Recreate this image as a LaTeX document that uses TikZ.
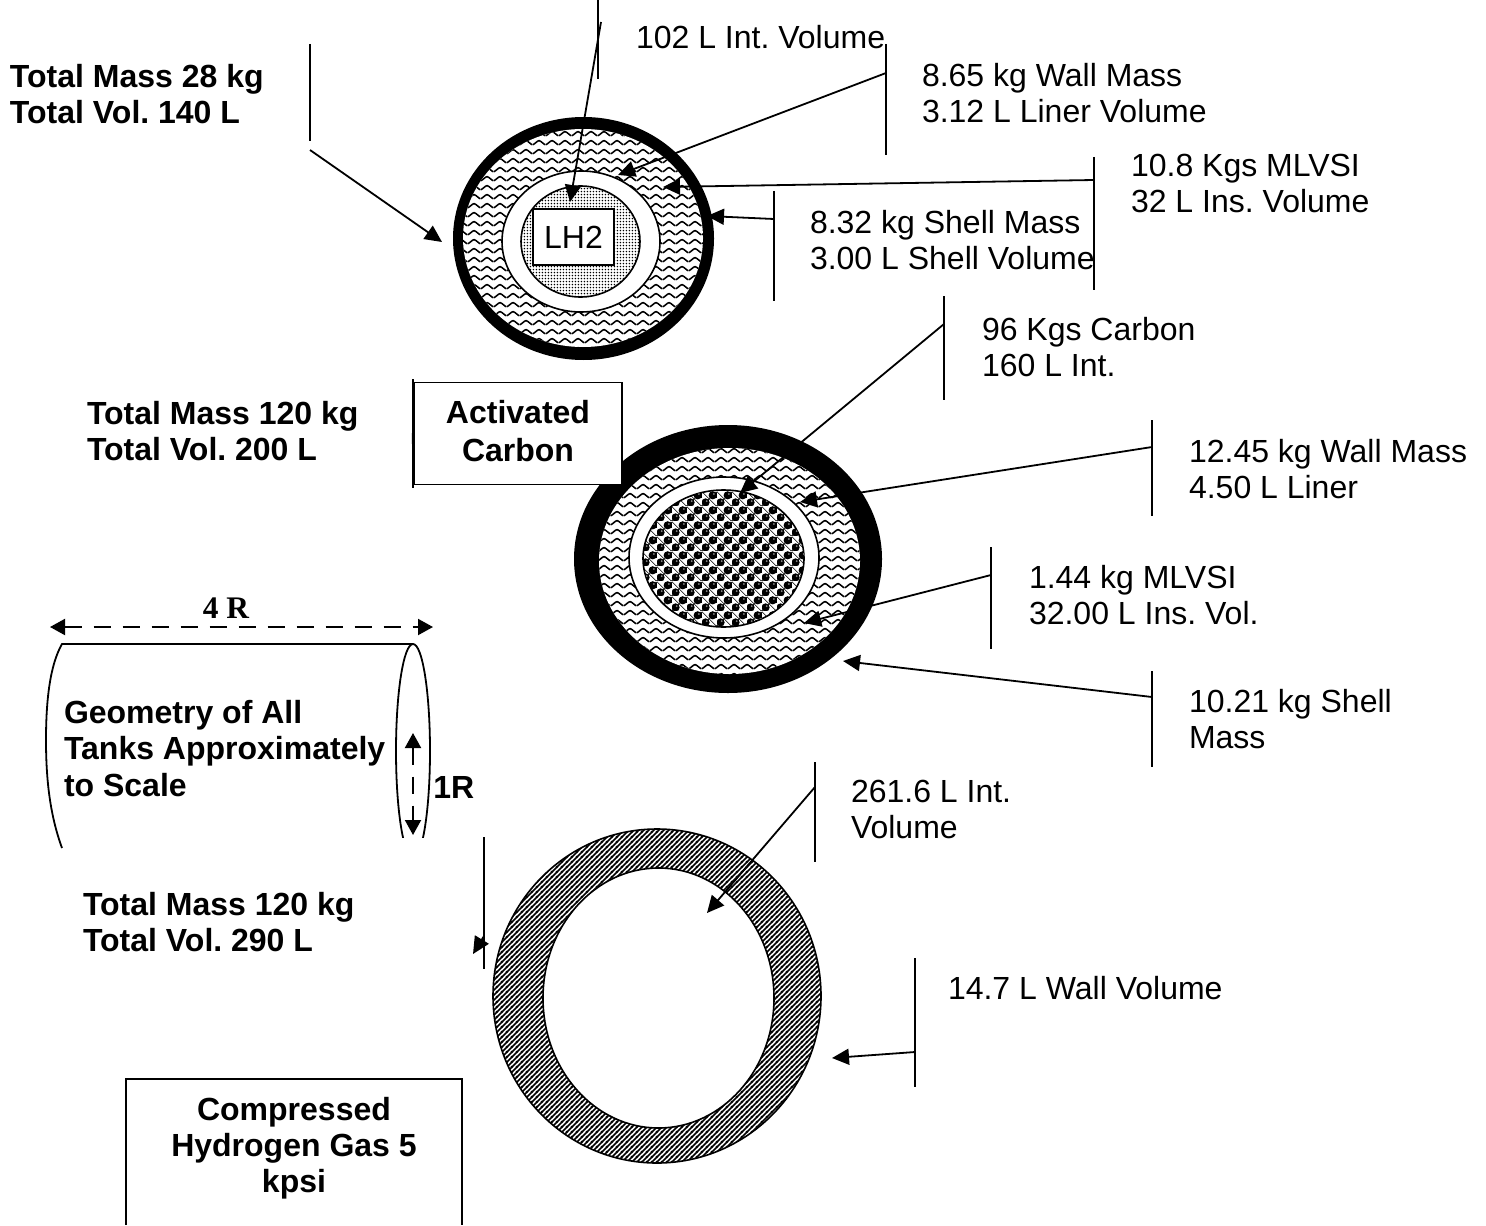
\documentclass[tikz,border=0pt]{standalone}
\usepackage{fontspec}
\setmainfont{Liberation Sans}
\newfontfamily\timesfam{Liberation Serif}
\usetikzlibrary{patterns,arrows.meta}
\pgfdeclarepatternformonly{wavy}{\pgfqpoint{0pt}{0pt}}{\pgfqpoint{6.5pt}{4.4pt}}{\pgfqpoint{6.5pt}{4.4pt}}{%
  \pgfsetlinewidth{0.8pt}%
  \pgfpathmoveto{\pgfqpoint{-0.2pt}{1.15pt}}%
  \pgfpathcurveto{\pgfqpoint{0.6pt}{1.15pt}}{\pgfqpoint{2.3pt}{3.25pt}}{\pgfqpoint{3.25pt}{3.25pt}}%
  \pgfpathcurveto{\pgfqpoint{4.2pt}{3.25pt}}{\pgfqpoint{5.9pt}{1.15pt}}{\pgfqpoint{6.7pt}{1.15pt}}%
  \pgfusepath{stroke}}
\pgfdeclarepatternformonly{fine dots}{\pgfqpoint{0pt}{0pt}}{\pgfqpoint{1.7pt}{1.7pt}}{\pgfqpoint{1.7pt}{1.7pt}}{%
  \pgfpathcircle{\pgfqpoint{0.85pt}{0.85pt}}{0.48pt}\pgfusepath{fill}}
\pgfdeclarepatternformonly{fine stripes}{\pgfqpoint{0pt}{0pt}}{\pgfqpoint{2.65pt}{2.65pt}}{\pgfqpoint{2.65pt}{2.65pt}}{%
  \pgfsetlinewidth{0.95pt}%
  \pgfpathmoveto{\pgfqpoint{-0.5pt}{-0.5pt}}\pgfpathlineto{\pgfqpoint{3.15pt}{3.15pt}}%
  \pgfpathmoveto{\pgfqpoint{-0.5pt}{2.15pt}}\pgfpathlineto{\pgfqpoint{0.5pt}{3.15pt}}%
  \pgfpathmoveto{\pgfqpoint{2.15pt}{-0.5pt}}\pgfpathlineto{\pgfqpoint{3.15pt}{0.5pt}}%
  \pgfusepath{stroke}}
\pgfdeclarepatterninherentlycolored{balls}{\pgfqpoint{0pt}{0pt}}{\pgfqpoint{7.3pt}{7.3pt}}{\pgfqpoint{7.3pt}{7.3pt}}{%
  \pgfsetstrokecolor{black}\pgfsetlinewidth{0.3pt}%
  \pgfpathmoveto{\pgfqpoint{-0.5pt}{-0.5pt}}\pgfpathlineto{\pgfqpoint{7.8pt}{7.8pt}}%
  \pgfpathmoveto{\pgfqpoint{7.8pt}{-0.5pt}}\pgfpathlineto{\pgfqpoint{-0.5pt}{7.8pt}}%
  \pgfusepath{stroke}%
  \pgfsetfillcolor{black}%
  \pgfpathcircle{\pgfqpoint{1.82pt}{1.82pt}}{2.1pt}\pgfusepath{fill}%
  \pgfpathcircle{\pgfqpoint{5.47pt}{5.47pt}}{2.1pt}\pgfusepath{fill}%
  \pgfsetfillcolor{black!45}%
  \pgfpathcircle{\pgfqpoint{2.4pt}{2.5pt}}{0.5pt}\pgfusepath{fill}%
  \pgfpathcircle{\pgfqpoint{6.05pt}{6.15pt}}{0.5pt}\pgfusepath{fill}}
\tikzset{
  x=0.5pt,y=-0.5pt,
  lbl/.style={anchor=north west,inner sep=0pt,outer sep=0pt,align=left,yshift=-1.5pt,
    font=\fontsize{16}{18.3}\selectfont\frenchspacing},
  blbl/.style={lbl,font=\fontsize{16}{18.3}\selectfont\bfseries\frenchspacing},
  cbox/.style={draw=black,line width=0.8pt,fill=white,align=center,inner sep=0pt,
    font=\fontsize{16}{18.8}\selectfont\bfseries},
  tick/.style={draw=black,line width=1pt},
  lead/.style={draw=black,line width=0.9pt,-{Triangle[length=8.5pt,width=8pt]}},
  rim/.style={fill=black,draw=none},
  wave/.style={fill=white,draw=none,postaction={pattern=wavy}},
  gap/.style={fill=white,draw=black,line width=0.8pt},
  dimline/.style={draw=black,line width=1pt,{Triangle[length=7.5pt,width=8pt]}-{Triangle[length=7.5pt,width=8pt]}},
}
\begin{document}
\begin{tikzpicture}
\useasboundingbox (0,0) rectangle (1486,1225);

% Tank 1: LH2
\path[rim] (583.5,238.5) ellipse [x radius=130.5,y radius=121.5];
\path[wave] (583,238) ellipse [x radius=120,y radius=109];
\path[gap] (581,241.5) ellipse [x radius=79,y radius=70.5];
\path[fill=white,draw=black,line width=0.8pt,postaction={pattern=fine dots}] (580.5,241.5) ellipse [x radius=59.5,y radius=55.5];
\node[draw=black,line width=1pt,fill=white,minimum width=40.5pt,minimum height=28pt,inner sep=0pt,font=\fontsize{16}{18.3}\selectfont] (lh2) at (573.5,237) {LH2};

% Tank 2: activated carbon
\path[rim] (728,559) ellipse [x radius=154,y radius=134];
\path[wave] (729.5,561) ellipse [x radius=130.5,y radius=113];
\path[gap] (724,557.5) ellipse [x radius=95,y radius=80.5];
\path[fill=white,draw=black,line width=0.8pt,postaction={pattern=balls}] (723.5,558.5) ellipse [x radius=80.5,y radius=68.5];

% Tank 3: compressed gas
\path[fill=white,draw=black,line width=0.8pt,postaction={pattern=fine stripes},even odd rule]
  (657,996) ellipse [x radius=164,y radius=167]
  (658.5,998) ellipse [x radius=115.5,y radius=130];

% Labels
\node[lbl] (a1) at (636,22) {102 L Int. Volume};
\node[lbl] (a2) at (922,60) {8.65 kg Wall Mass\\3.12 L Liner Volume};
\node[lbl] (a3) at (1131,151) {10.8 Kgs MLVSI\\32 L Ins. Volume};
\node[lbl] (a4) at (810,207) {8.32 kg Shell Mass\\3.00 L Shell Volume};
\node[blbl] (a5) at (10,61) {Total Mass 28 kg\\Total Vol. 140 L};
\node[lbl] (b1) at (982,314) {96 Kgs Carbon\\160 L Int.};
\node[lbl] (b2) at (1189,436) {12.45 kg Wall Mass\\4.50 L Liner};
\node[lbl] (b3) at (1029,562) {1.44 kg MLVSI\\32.00 L Ins. Vol.};
\node[lbl] (b4) at (1189,686) {10.21 kg Shell\\Mass};
\node[blbl] (b5) at (87,398) {Total Mass 120 kg\\Total Vol. 200 L};
\node[lbl] (c1) at (851,777) {261.6 L Int.\\Volume};
\node[lbl] (c2) at (948,973) {14.7 L Wall Volume};
\node[blbl] (c3) at (83,889) {Total Mass 120 kg\\Total Vol. 290 L};

% Leader ticks and arrows, tank 1
\coordinate (t1a) at (598,0); \coordinate (t1b) at (598,79);
\coordinate (s1) at (601,22); \coordinate (e1) at (570,202);
\draw[tick] (t1a) -- (t1b); \draw[lead] (s1) -- (e1);
\coordinate (t2a) at (886,44); \coordinate (t2b) at (886,155);
\coordinate (s2) at (886,73); \coordinate (e2) at (618,175);
\draw[tick] (t2a) -- (t2b); \draw[lead] (s2) -- (e2);
\coordinate (t3a) at (1094,157); \coordinate (t3b) at (1094,290);
\coordinate (s3) at (1094,180); \coordinate (e3) at (663,187);
\draw[tick] (t3a) -- (t3b); \draw[lead] (s3) -- (e3);
\coordinate (t4a) at (774,191); \coordinate (t4b) at (774,301);
\coordinate (s4) at (774,219); \coordinate (e4) at (707,216);
\draw[tick] (t4a) -- (t4b); \draw[lead] (s4) -- (e4);
\coordinate (t5a) at (310,44); \coordinate (t5b) at (310,141);
\coordinate (s5) at (310,150); \coordinate (e5) at (442,242);
\draw[tick] (t5a) -- (t5b); \draw[lead] (s5) -- (e5);

% Tank 2 leaders
\coordinate (u1a) at (944,296); \coordinate (u1b) at (944,400);
\coordinate (v1) at (944,324); \coordinate (w1) at (740,493);
\draw[tick] (u1a) -- (u1b); \draw[lead] (v1) -- (w1);
\coordinate (u2a) at (1152,420); \coordinate (u2b) at (1152,516);
\coordinate (v2) at (1152,447); \coordinate (w2) at (800,502);
\draw[tick] (u2a) -- (u2b); \draw[lead] (v2) -- (w2);
\coordinate (u3a) at (991,547); \coordinate (u3b) at (991,649);
\coordinate (v3) at (991,575); \coordinate (w3) at (804,623);
\draw[tick] (u3a) -- (u3b); \draw[lead] (v3) -- (w3);
\coordinate (u4a) at (1152,671); \coordinate (u4b) at (1152,767);
\coordinate (v4) at (1152,697); \coordinate (w4) at (843,661);
\draw[tick] (u4a) -- (u4b); \draw[lead] (v4) -- (w4);
\coordinate (u5a) at (413,379); \coordinate (u5b) at (413,488);
\coordinate (v5) at (425,425); \coordinate (w5) at (412,452);
\draw[tick] (u5a) -- (u5b); \draw[lead] (v5) -- (w5);
\node[cbox,minimum width=104pt,minimum height=51pt] (ac) at (518,433.5) {Activated\\Carbon\rule[-2.5pt]{0pt}{0pt}};

% Tank 3 leaders
\coordinate (x1a) at (815,762); \coordinate (x1b) at (815,862);
\coordinate (y1) at (815,787); \coordinate (z1) at (707,913);
\draw[tick] (x1a) -- (x1b); \draw[lead] (y1) -- (z1);
\coordinate (x2a) at (915,958); \coordinate (x2b) at (915,1087);
\coordinate (y2) at (915,1052); \coordinate (z2) at (832,1058);
\draw[tick] (x2a) -- (x2b); \draw[lead] (y2) -- (z2);
\coordinate (x3a) at (484,837); \coordinate (x3b) at (484,969);
\coordinate (y3) at (484,936); \coordinate (z3) at (473,954);
\draw[tick] (x3a) -- (x3b); \draw[lead] (y3) -- (z3);

% Geometry sketch
\begin{scope}
  \clip (30,630) rectangle (450,837);
  \draw[line width=0.9pt] (413,751) ellipse [x radius=17,y radius=107];
\end{scope}
\draw[line width=0.9pt] (62,848) .. controls (50,815) and (46,780) .. (46,740)
  .. controls (46,700) and (50,665) .. (62,644) -- (413,644);
\coordinate (d1) at (50,627); \coordinate (d2) at (433,627);
\draw[dimline,dash pattern=on 8.5pt off 6pt] (d1) -- (d2);
\coordinate (d3) at (413,733); \coordinate (d4) at (413,835);
\draw[dimline,dash pattern=on 8.5pt off 6pt] (d3) -- (d4);
\node[inner sep=0pt,anchor=base,font=\fontsize{15.7}{18}\timesfam\bfseries] (dr) at (226,618) {4 R};
\node[blbl] (geo) at (64,697) {Geometry of All\\Tanks Approximately\\to Scale};
\node[inner sep=0pt,anchor=base west,font=\fontsize{16}{18.3}\selectfont\bfseries] (oner) at (433,798) {1R};

% Bottom box, open at the page edge
\coordinate (p1) at (126,1225); \coordinate (p2) at (126,1079);
\coordinate (p3) at (462,1079); \coordinate (p4) at (462,1225);
\draw[line width=1pt] (p1) -- (p2) -- (p3) -- (p4);
\node[anchor=north,inner sep=0pt,align=center,font=\fontsize{16}{18}\selectfont\bfseries] (cg) at (294,1097) {Compressed\\Hydrogen Gas 5\\kpsi};
\end{tikzpicture}
\end{document}
